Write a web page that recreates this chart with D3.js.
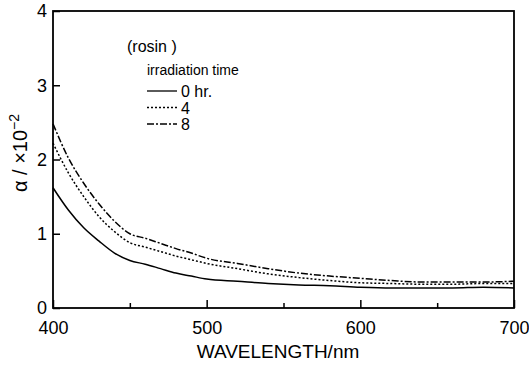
<!DOCTYPE html>
<html>
<head>
<meta charset="utf-8">
<script src="https://cdn.jsdelivr.net/npm/d3@7"></script>
<style>
  body { margin: 0; background: #fff; }
  svg text { font-family: "Liberation Sans", Arial, sans-serif; fill: #000; }
</style>
</head>
<body>
<div id="vis-container"></div>
<script>
// chart data
const wavelength = [400, 410, 420, 430, 440, 450, 460, 470, 480, 490, 500, 520, 540, 560, 580, 600, 620, 640, 660, 680, 700];
const hr0 = [1.62, 1.32, 1.08, 0.90, 0.74, 0.64, 0.59, 0.53, 0.47, 0.43, 0.39, 0.36, 0.33, 0.31, 0.30, 0.28, 0.27, 0.27, 0.27, 0.28, 0.27];
const hr4 = [2.22, 1.82, 1.50, 1.23, 1.03, 0.88, 0.82, 0.76, 0.70, 0.65, 0.60, 0.53, 0.46, 0.41, 0.37, 0.34, 0.33, 0.32, 0.32, 0.33, 0.33];
const hr8 = [2.48, 2.02, 1.68, 1.40, 1.17, 1.00, 0.94, 0.87, 0.80, 0.74, 0.67, 0.60, 0.53, 0.47, 0.43, 0.40, 0.37, 0.35, 0.35, 0.35, 0.36];
const seriesNames = ["0 hr.", "4", "8"];
const xTicks = [400, 500, 600, 700];
const xMinorTicks = [450, 550, 650];
const yTicks = [0, 1, 2, 3, 4];

//margins
const margin = { top: 11, right: 15, bottom: 68, left: 53 };
const width = 529;
const height = 376;

const svg = d3.select("#vis-container")
    .append("svg")
    .attr("width", width)
    .attr("height", height);

const x = d3.scaleLinear()
    .domain([400, 700])
    .range([margin.left, width - margin.right]);

const y = d3.scaleLinear()
    .domain([0, 4])
    .range([height - margin.bottom, margin.top]);

// frame
svg.append("rect")
    .attr("x", x(400))
    .attr("y", y(4))
    .attr("width", x(700) - x(400))
    .attr("height", y(0) - y(4))
    .attr("fill", "none")
    .attr("stroke", "#000")
    .attr("stroke-width", 1.8);

// x axis, ticks pointing in
svg.append("g")
    .attr("transform", `translate(0,${y(0)})`)
    .call(d3.axisBottom(x).tickValues(xTicks).tickSizeInner(-8).tickSizeOuter(0).tickPadding(13))
    .call((g) => g.select(".domain").remove())
    .call((g) => g.selectAll(".tick line").attr("stroke-width", 1.5))
    .call((g) => g.selectAll(".tick text").attr("font-size", "18px"));

svg.append("g")
    .attr("transform", `translate(0,${y(0)})`)
    .call(d3.axisBottom(x).tickValues(xMinorTicks).tickSizeInner(-5).tickSizeOuter(0).tickFormat(""))
    .call((g) => g.select(".domain").remove())
    .call((g) => g.selectAll(".tick line").attr("stroke-width", 1.5));

// y axis
svg.append("g")
    .attr("transform", `translate(${x(400)},0)`)
    .call(d3.axisLeft(y).tickValues(yTicks).tickFormat(d3.format("d")).tickSizeInner(-7).tickSizeOuter(0).tickPadding(6))
    .call((g) => g.select(".domain").remove())
    .call((g) => g.selectAll(".tick line").attr("stroke-width", 1.5))
    .call((g) => g.selectAll(".tick text").attr("font-size", "18px"));

// axis titles
svg.append("text")
    .attr("x", 278)
    .attr("y", 358)
    .attr("text-anchor", "middle")
    .attr("font-size", "19px")
    .text("WAVELENGTH/nm");

const yTitle = svg.append("text")
    .attr("transform", "translate(27,153) rotate(-90)")
    .attr("text-anchor", "middle")
    .attr("font-size", "20px");
yTitle.append("tspan").text("α / ×10");
yTitle.append("tspan").attr("dy", -8).attr("font-size", "14px").text("−2");

// curves
const line = d3.line()
    .x((d, i) => x(wavelength[i]))
    .y((d) => y(d))
    .curve(d3.curveMonotoneX);

const dashes = [null, "2,2", "7,2,2,2"];
[hr0, hr4, hr8].forEach((s, k) => {
    svg.append("path")
        .datum(s)
        .attr("d", line)
        .attr("fill", "none")
        .attr("stroke", "#000")
        .attr("stroke-width", 1.5)
        .attr("stroke-dasharray", dashes[k]);
});

// legend
svg.append("text").attr("x", 127).attr("y", 52).attr("font-size", "16px").text("(rosin )");
svg.append("text").attr("x", 147).attr("y", 75).attr("font-size", "14px").text("irradiation time");
seriesNames.forEach((name, k) => {
    const ly = 91 + k * 16.5;
    svg.append("line")
        .attr("x1", 147).attr("x2", 177)
        .attr("y1", ly).attr("y2", ly)
        .attr("stroke", "#000")
        .attr("stroke-width", 1.3)
        .attr("stroke-dasharray", dashes[k]);
    svg.append("text")
        .attr("x", 181)
        .attr("y", ly + 6)
        .attr("font-size", "16px")
        .text(name);
});
</script>
</body>
</html>
